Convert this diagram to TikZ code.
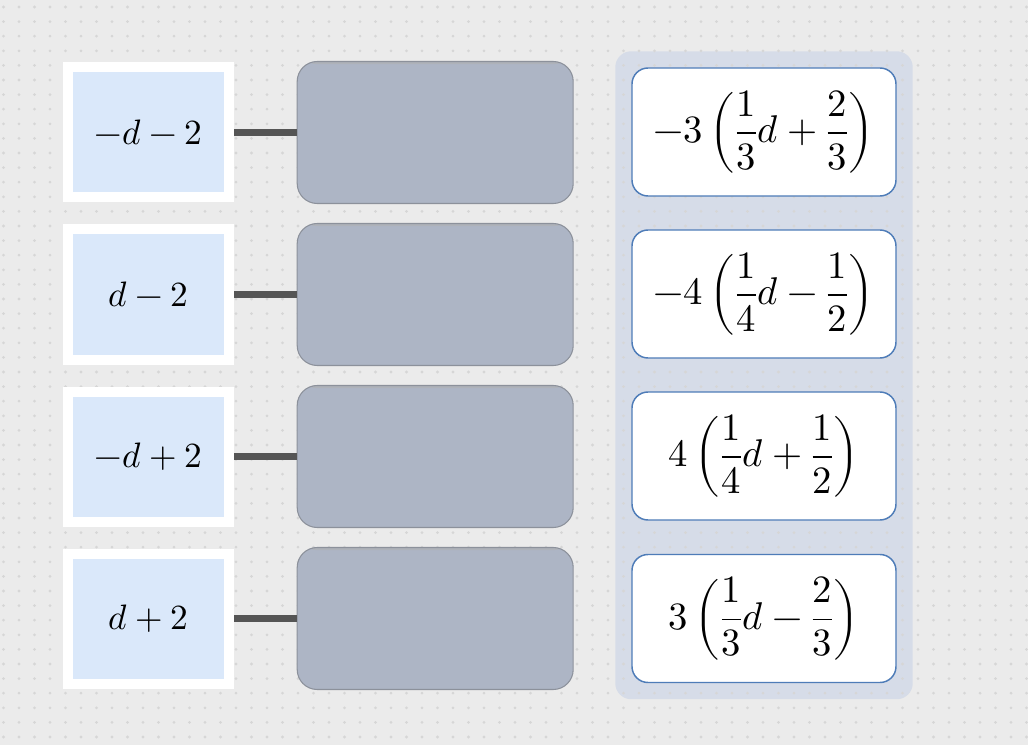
\documentclass[tikz,border=0pt]{standalone}
\usepackage{amsmath}
\usepackage{unicode-math}
\setmathfont{Latin Modern Math}
\usepackage{xcolor}
\usepackage{tikz}
\usetikzlibrary{positioning, fit, backgrounds}
\definecolor{pagebg}{HTML}{EBEBEB}
\definecolor{dotgray}{HTML}{D6D6D6}
\definecolor{termfill}{HTML}{DAE8FA}
\definecolor{linkgray}{HTML}{555555}
\definecolor{slotfill}{HTML}{ADB5C5}
\definecolor{slotedge}{HTML}{8C919B}
\definecolor{panelfill}{HTML}{D6DCE8}
\definecolor{cardedge}{HTML}{4E7CB8}

\begin{document}
\begin{tikzpicture}[x=0.75pt, y=-0.75pt,
    term/.style={rectangle, draw=white, fill=termfill, line width=7.5pt,
                 minimum width=120.75pt, minimum height=97.5pt, inner sep=0pt,
                 font=\fontsize{26.5}{32}\selectfont},
    slot/.style={rectangle, draw=slotedge, fill=slotfill, rounded corners=15pt,
                 line width=0.8pt, minimum width=207pt, minimum height=106.5pt,
                 path picture={\fill[slotedge!70] (path picture bounding box.north west)
                     rectangle ([yshift=-2pt]path picture bounding box.north east);}},
    card/.style={rectangle, draw=cardedge, fill=white, rounded corners=12pt,
                 line width=1.1pt, minimum width=198pt, minimum height=96pt,
                 inner sep=0pt, font=\fontsize{29}{34}\selectfont},
    panel box/.style={rectangle, fill=panelfill, rounded corners=12pt, inner sep=12pt},
    link/.style={draw=linkgray, line width=5.25pt},
]

    % ── Canvas ──
    \useasboundingbox (0,0) rectangle (1028,745);
    \begin{scope}[on background layer]
        \fill[pagebg] (0,0) rectangle (1028,745);
    \end{scope}
    \foreach \gx in {0,...,66} {
        \foreach \gy in {0,...,50} {
            \fill[dotgray] (3.5+15.5*\gx, 7+14.6*\gy) circle[radius=1.15pt];
        }
    }

    % ── Expressions ──
    \node[term] (t1) at (148.5,132.5) {$-d-2$};
    \node[term] (t2) at (148.5,294.5) {$d-2$};
    \node[term] (t3) at (148.5,456.5) {$-d+2$};
    \node[term] (t4) at (148.5,618.5) {$d+2$};

    % ── Drop slots ──
    \node[slot, right=47pt of t1] (s1) {};
    \node[slot, right=47pt of t2] (s2) {};
    \node[slot, right=47pt of t3] (s3) {};
    \node[slot, right=47pt of t4] (s4) {};

    \draw[link] (t1.east) -- (s1.west);
    \draw[link] (t2.east) -- (s2.west);
    \draw[link] (t3.east) -- (s3.west);
    \draw[link] (t4.east) -- (s4.west);

    % ── Answer cards ──
    \node[card] (c1) at (764,132) {$\displaystyle -3\left(\frac{1}{3}d+\frac{2}{3}\right)$};
    \node[card] (c2) at (764,294) {$\displaystyle -4\left(\frac{1}{4}d-\frac{1}{2}\right)$};
    \node[card] (c3) at (764,456) {$\displaystyle 4\left(\frac{1}{4}d+\frac{1}{2}\right)$};
    \node[card] (c4) at (764,618.5) {$\displaystyle 3\left(\frac{1}{3}d-\frac{2}{3}\right)$};

    \begin{scope}[on background layer]
        \node[panel box, fit=(c1)(c4)] (bank) {};
    \end{scope}

\end{tikzpicture}
\end{document}
